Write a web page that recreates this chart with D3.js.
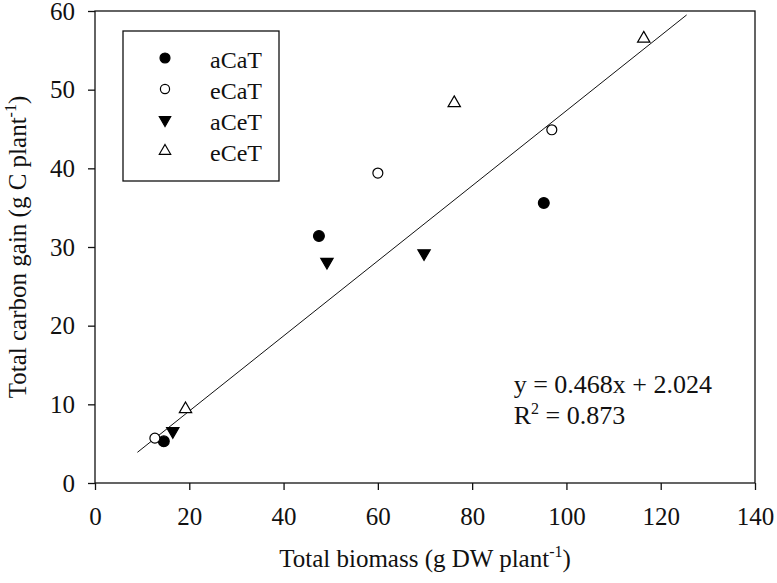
<!DOCTYPE html>
<html>
<head>
<meta charset="utf-8">
<script src="https://cdn.jsdelivr.net/npm/d3@7"></script>
<style>
  body { margin: 0; background: #fff; }
  text { font-family: "Liberation Serif", "Times New Roman", serif; fill: #111; }
</style>
</head>
<body>
<div id="chart"></div>
<script>
// data
var groups = ['aCaT', 'eCaT', 'aCeT', 'eCeT']
var biomass = {
  aCaT: [14.6, 47.5, 95.2],
  eCaT: [12.7, 60.0, 96.9],
  aCeT: [16.5, 49.2, 69.8],
  eCeT: [19.2, 76.2, 116.4]
}
var carbon = {
  aCaT: [5.3, 31.4, 35.6],
  eCaT: [5.7, 39.4, 44.9],
  aCeT: [6.6, 28.1, 29.2],
  eCeT: [9.4, 48.3, 56.5]
}
var fitX = [9, 125.5]
var fitY = [3.9, 59.5]
var xTicks = [0, 20, 40, 60, 80, 100, 120, 140]
var yTicks = [0, 10, 20, 30, 40, 50, 60]

var margin = { top: 11, right: 22, bottom: 100, left: 95 }
var width = 777 - margin.left - margin.right,
    height = 583 - margin.top - margin.bottom
var fs = 25

var svg = d3.select('#chart').append('svg')
    .attr('width', 777)
    .attr('height', 583)
  .append('g')
    .attr('transform', 'translate(' + margin.left + ',' + margin.top + ')')

var x = d3.scaleLinear().domain([0, 140]).range([0, width])
var y = d3.scaleLinear().domain([0, 60]).range([height, 0])

// frame
svg.append('rect')
  .attr('width', width)
  .attr('height', height)
  .attr('fill', 'none')
  .attr('stroke', '#111')
  .attr('stroke-width', 1.3)

svg.append('g')
  .attr('transform', 'translate(0,' + height + ')')
  .call(d3.axisBottom(x).tickValues(xTicks).tickSize(7).tickPadding(17))
svg.append('g')
  .call(d3.axisLeft(y).tickValues(yTicks).tickSize(7).tickPadding(13))

svg.selectAll('.domain').remove()
svg.selectAll('.tick line').attr('stroke', '#111').attr('stroke-width', 1.3)
svg.selectAll('.tick text')
  .attr('font-family', '"Liberation Serif", serif')
  .attr('font-size', fs)
  .attr('fill', '#111')

// regression line
svg.append('line')
  .attr('x1', x(fitX[0])).attr('y1', y(fitY[0]))
  .attr('x2', x(fitX[1])).attr('y2', y(fitY[1]))
  .attr('stroke', '#111')
  .attr('stroke-width', 1)

var symbols = {
  aCaT: { type: d3.symbolCircle, size: 92, fill: '#000', rot: 0 },
  eCaT: { type: d3.symbolCircle, size: 78, fill: '#fff', rot: 0 },
  aCeT: { type: d3.symbolTriangle, size: 66, fill: '#000', rot: 180 },
  eCeT: { type: d3.symbolTriangle, size: 66, fill: '#fff', rot: 0 }
}

groups.forEach(function (g) {
  var s = symbols[g]
  var pts = biomass[g].map(function (v, i) { return [v, carbon[g][i]] })
  svg.selectAll('.pt-' + g)
    .data(pts)
    .enter().append('path')
    .attr('class', 'pt-' + g)
    .attr('d', d3.symbol().type(s.type).size(s.size))
    .attr('transform', function (d) {
      return 'translate(' + x(d[0]) + ',' + y(d[1]) + ') rotate(' + s.rot + ')'
    })
    .attr('fill', s.fill)
    .attr('stroke', '#000')
    .attr('stroke-width', 1.2)
})

// legend
var legend = svg.append('g').attr('transform', 'translate(28,20)')
legend.append('rect')
  .attr('width', 156)
  .attr('height', 150)
  .attr('fill', '#fff')
  .attr('stroke', '#111')
  .attr('stroke-width', 1.3)

groups.forEach(function (g, i) {
  var s = symbols[g]
  var row = legend.append('g').attr('transform', 'translate(0,' + (27 + i * 31) + ')')
  row.append('path')
    .attr('d', d3.symbol().type(s.type).size(s.size * 0.85))
    .attr('transform', 'translate(42,0) rotate(' + s.rot + ')')
    .attr('fill', s.fill)
    .attr('stroke', '#000')
    .attr('stroke-width', 1.2)
  row.append('text')
    .attr('x', 87)
    .attr('y', 10)
    .attr('font-size', fs - 1)
    .text(g)
})

// equation
svg.append('text')
  .attr('x', x(88.8))
  .attr('y', y(11.4))
  .attr('font-size', fs + 1)
  .text('y = 0.468x + 2.024')

var r2 = svg.append('text')
  .attr('x', x(88.8))
  .attr('y', y(7.5))
  .attr('font-size', fs + 1)
r2.append('tspan').text('R')
r2.append('tspan').attr('font-size', 16).attr('dy', -10).text('2')
r2.append('tspan').attr('dy', 10).text(' = 0.873')

// axis titles
var xTitle = svg.append('text')
  .attr('x', width / 2)
  .attr('y', height + 84)
  .attr('text-anchor', 'middle')
  .attr('font-size', fs)
xTitle.append('tspan').text('Total biomass (g DW plant')
xTitle.append('tspan').attr('font-size', 16).attr('dy', -10).text('-1')
xTitle.append('tspan').attr('dy', 10).text(')')

var yTitle = svg.append('text')
  .attr('transform', 'translate(' + (26 - margin.left) + ',' + (height / 2) + ') rotate(-90)')
  .attr('text-anchor', 'middle')
  .attr('font-size', fs)
yTitle.append('tspan').text('Total carbon gain (g C plant')
yTitle.append('tspan').attr('font-size', 16).attr('dy', -10).text('-1')
yTitle.append('tspan').attr('dy', 10).text(')')
</script>
</body>
</html>
